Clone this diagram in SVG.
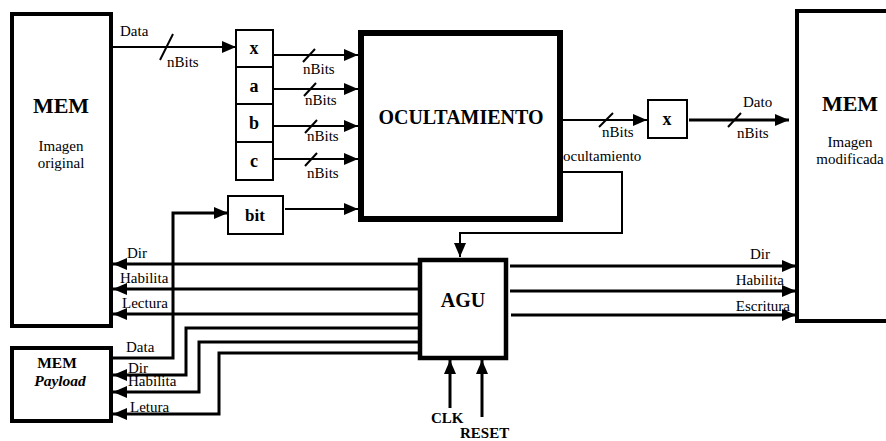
<svg xmlns="http://www.w3.org/2000/svg" width="886" height="441" viewBox="0 0 886 441" font-family="'Liberation Serif', 'Times New Roman', Times, 'DejaVu Serif', serif">
<style>
.box{fill:#fff;stroke:#000}
text{font-family:'Liberation Serif','Times New Roman',Times,'DejaVu Serif',serif;fill:#000}
.b{font-weight:bold}
.c{fill:none;stroke:#000}
.s2{stroke-width:2}
.s3{stroke-width:3}
</style>
<defs>
<marker id="ah" markerWidth="14" markerHeight="12" refX="14" refY="6" orient="auto" markerUnits="userSpaceOnUse"><path d="M0,0 L14,6 L0,12 z" fill="#000"/></marker>
</defs>
<rect width="886" height="441" fill="#fff"/>

<g id="mem-original">
<rect class="box" x="12" y="14" width="99" height="312" stroke-width="4"/>
<text class="b" x="61" y="113" font-size="22" text-anchor="middle">MEM</text>
<text x="61" y="151" font-size="15" text-anchor="middle">Imagen</text>
<text x="61" y="168" font-size="15" text-anchor="middle">original</text>
</g>

<g id="mem-payload">
<rect class="box" x="12" y="348" width="99" height="73" stroke-width="4"/>
<text class="b" x="57" y="368" font-size="15.5" text-anchor="middle">MEM</text>
<text class="b" x="60" y="386" font-size="15.5" text-anchor="middle" font-style="italic">Payload</text>
</g>

<g id="registers">
<rect class="box" x="236" y="30" width="37" height="150" stroke-width="2"/>
<line x1="236" y1="67" x2="273" y2="67" stroke="#000" stroke-width="2"/>
<line x1="236" y1="104" x2="273" y2="104" stroke="#000" stroke-width="2"/>
<line x1="236" y1="142" x2="273" y2="142" stroke="#000" stroke-width="2"/>
<text class="b" x="254" y="54" font-size="18" text-anchor="middle">x</text>
<text class="b" x="254" y="92" font-size="18" text-anchor="middle">a</text>
<text class="b" x="254" y="129" font-size="18" text-anchor="middle">b</text>
<text class="b" x="254" y="167" font-size="18" text-anchor="middle">c</text>
</g>

<g id="bit">
<rect class="box" x="228" y="196" width="55" height="38" stroke-width="2"/>
<text class="b" x="255" y="221" font-size="17" text-anchor="middle">bit</text>
</g>

<g id="ocultamiento">
<rect class="box" x="361" y="33" width="199" height="186" stroke-width="6"/>
<text class="b" x="461" y="124" font-size="20" text-anchor="middle">OCULTAMIENTO</text>
</g>

<g id="xout">
<rect class="box" x="648" y="100" width="39" height="38" stroke-width="2"/>
<text class="b" x="667" y="125" font-size="18" text-anchor="middle">x</text>
</g>

<g id="mem-modificada">
<rect class="box" x="797" y="11" width="100" height="310" stroke-width="4"/>
<text class="b" x="850" y="111" font-size="22" text-anchor="middle">MEM</text>
<text x="850" y="147" font-size="15" text-anchor="middle">Imagen</text>
<text x="850" y="164" font-size="15" text-anchor="middle">modificada</text>
</g>

<g id="agu">
<rect class="box" x="420" y="260" width="86" height="98" stroke-width="4.5"/>
<text class="b" x="463" y="307" font-size="20" text-anchor="middle">AGU</text>
</g>

<g id="connectors">
<path class="c s2" d="M113,47 H236" stroke-width="2.5" marker-end="url(#ah)"/>
<path class="c s2" d="M273,55 H358" marker-end="url(#ah)"/>
<path class="c s2" d="M273,89 H358" marker-end="url(#ah)"/>
<path class="c s2" d="M273,126 H358" marker-end="url(#ah)"/>
<path class="c s2" d="M273,159 H358" marker-end="url(#ah)"/>
<path class="c s2" d="M285,209 H358" marker-end="url(#ah)"/>
<path class="c s3" d="M113,358 H173 V213 H228" marker-end="url(#ah)"/>
<path class="c s2" d="M563,120 H647" marker-end="url(#ah)"/>
<path class="c s3" d="M689,120 H789" marker-end="url(#ah)"/>
<path class="c s2" d="M563,172 H622 V233 H460 V257" marker-end="url(#ah)"/>
<path class="c s3" d="M510,266 H796" marker-end="url(#ah)"/>
<path class="c s3" d="M510,291 H796" marker-end="url(#ah)"/>
<path class="c s3" d="M511,315 H796" marker-end="url(#ah)"/>
<path class="c s3" d="M420,264 H113" marker-end="url(#ah)"/>
<path class="c s3" d="M420,289 H113" marker-end="url(#ah)"/>
<path class="c s3" d="M420,314 H113" marker-end="url(#ah)"/>
<path class="c s3" d="M420,328 H186 V375 H113" marker-end="url(#ah)"/>
<path class="c s3" d="M420,342 H199 V392 H113" marker-end="url(#ah)"/>
<path class="c s3" d="M420,353 H219 V414 H113" marker-end="url(#ah)"/>
<path class="c s3" d="M450,408 V360" marker-end="url(#ah)"/>
<path class="c s3" d="M482,417 V360" marker-end="url(#ah)"/>
<g class="c s2">
<line x1="160" y1="60" x2="173" y2="34"/>
<line x1="303" y1="62" x2="315" y2="49"/>
<line x1="304" y1="96" x2="316" y2="83"/>
<line x1="305" y1="133" x2="317" y2="120"/>
<line x1="305" y1="166" x2="317" y2="153"/>
<line x1="599" y1="127" x2="613" y2="113"/>
<line x1="728" y1="127" x2="741" y2="113"/>
</g>
</g>

<g id="labels" font-size="15">
<text x="120" y="36">Data</text>
<text x="167" y="67">nBits</text>
<text x="303" y="74">nBits</text>
<text x="305" y="105">nBits</text>
<text x="307" y="141">nBits</text>
<text x="307" y="178">nBits</text>
<text x="602" y="137">nBits</text>
<text x="743" y="107">Dato</text>
<text x="737" y="138">nBits</text>
<text x="563" y="161">ocultamiento</text>
<text x="770" y="259" text-anchor="end">Dir</text>
<text x="784" y="285" text-anchor="end">Habilita</text>
<text x="790" y="311" text-anchor="end">Escritura</text>
<text x="127" y="258">Dir</text>
<text x="120" y="283">Habilita</text>
<text x="122" y="308">Lectura</text>
<text x="126" y="352">Data</text>
<text x="128" y="373">Dir</text>
<text x="128" y="386">Habilita</text>
<text x="130" y="412">Letura</text>
<text class="b" x="431" y="423" font-size="15">CLK</text>
<text class="b" x="460" y="438" font-size="15">RESET</text>
</g>
</svg>
